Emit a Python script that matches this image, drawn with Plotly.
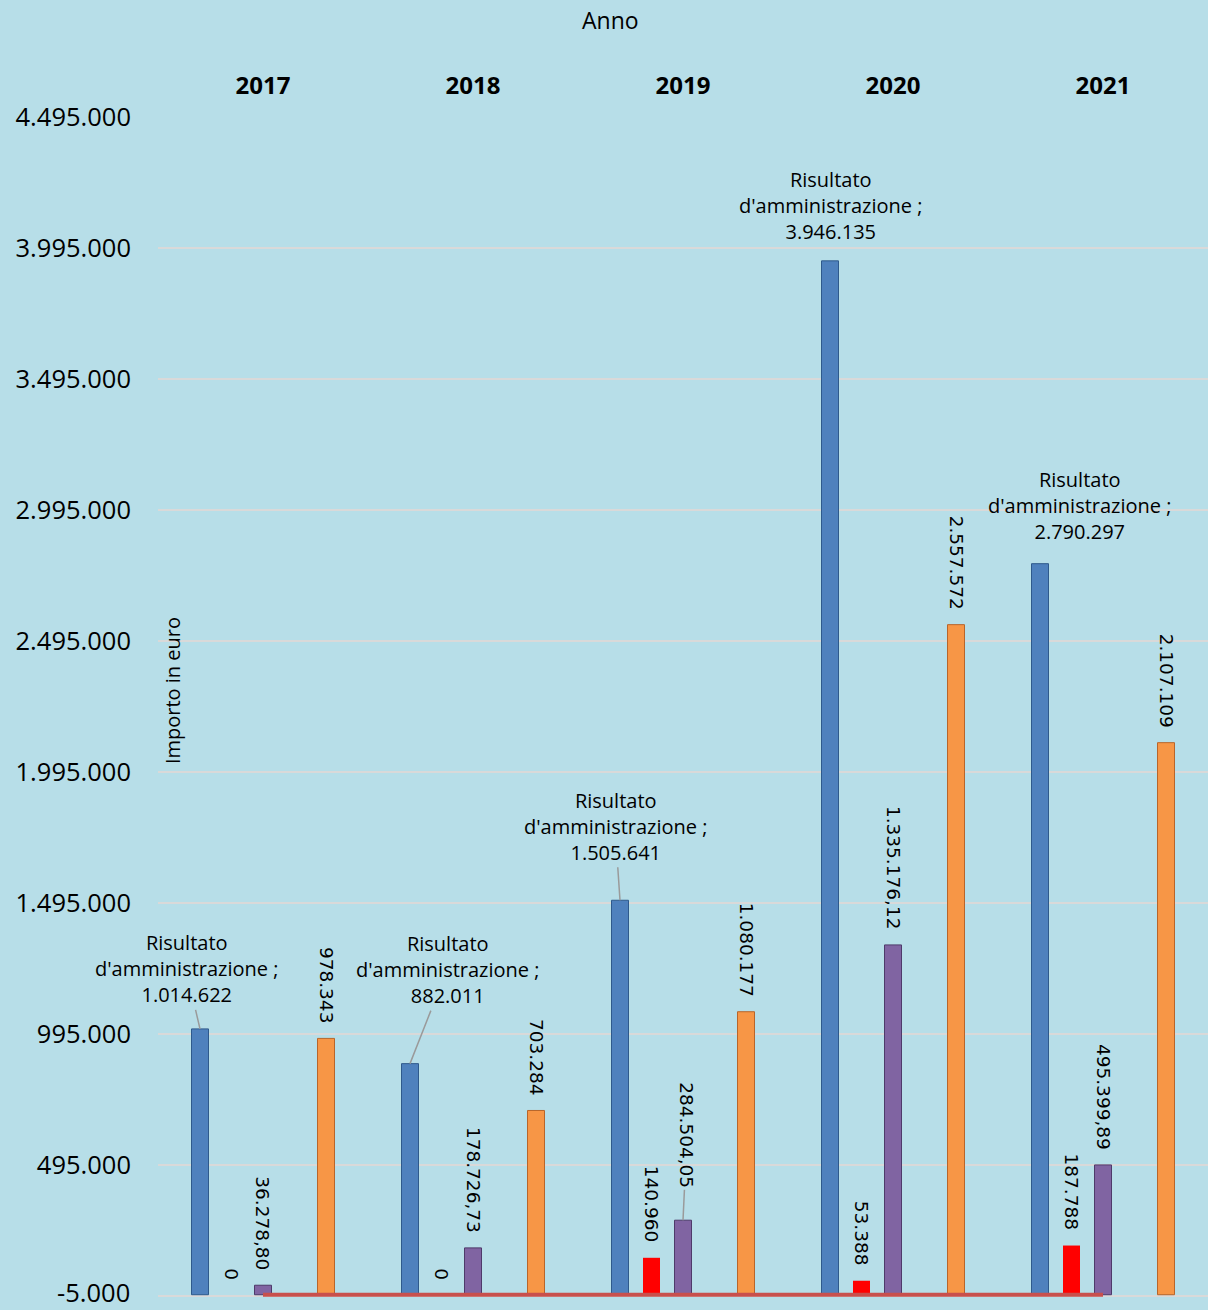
import plotly.graph_objects as go

years = ["2017", "2018", "2019", "2020", "2021"]
risultato = [1014622, 882011, 1505641, 3946135, 2790297]
rossi = [0, 0, 140960, 53388, 187788]
viola = [36278.80, 178726.73, 284504.05, 1335176.12, 495399.89]
vuoto = [None, None, None, None, None]
arancio = [978343, 703284, 1080177, 2557572, 2107109]
linea = [0, 0, 0, 0, 0]

risultato_txt = ["1.014.622", "882.011", "1.505.641", "3.946.135", "2.790.297"]
rossi_txt = ["0", "0", "140.960", "53.388", "187.788"]
viola_txt = ["36.278,80", "178.726,73", "284.504,05", "1.335.176,12", "495.399,89"]
arancio_txt = ["978.343", "703.284", "1.080.177", "2.557.572", "2.107.109"]

y_tickvals = [-5000, 495000, 995000, 1495000, 1995000, 2495000, 2995000, 3495000, 3995000, 4495000]
y_ticktext = ["-5.000", "495.000", "995.000", "1.495.000", "1.995.000", "2.495.000",
              "2.995.000", "3.495.000", "3.995.000", "4.495.000"]

BG = "#B7DEE8"
SLOT = 31.5
LBL_FONT = dict(family="Open Sans", size=20, color="black")
ROT_FONT = dict(family="DejaVu Sans", size=18.5, color="black")
TICK_FONT = dict(family="Open Sans", size=25.5, color="black")

fig = go.Figure()
series = [
    ("Risultato d'amministrazione", risultato, "#4F81BD", "#2F5A8C", 1),
    ("Serie 2", rossi, "#FF0000", "#B00000", 0),
    ("Serie 3", viola, "#8064A2", "#4E3A6A", 1),
    ("", vuoto, BG, BG, 0),
    ("Serie 5", arancio, "#F79646", "#B8652A", 1),
]
for name, vals, col, lcol, lw in series:
    fig.add_trace(go.Bar(x=years, y=vals, name=name,
                         marker=dict(color=col, line=dict(color=lcol, width=lw)),
                         showlegend=False))

fig.add_trace(go.Scatter(x=years, y=linea, mode="lines", line=dict(color="#C8504D", width=4),
                         showlegend=False))

ann = []
blue_cfg = [
    dict(arrow=True, ax=-14, ay=-60),
    dict(arrow=True, ax=37, ay=-94),
    dict(arrow=True, ax=-5, ay=-74),
    dict(arrow=False, xs=0, ys=55),
    dict(arrow=False, xs=39, ys=58),
]
for i, yr in enumerate(years):
    txt = "Risultato<br>d'amministrazione ;<br>" + risultato_txt[i]
    c = blue_cfg[i]
    if c["arrow"]:
        ann.append(dict(x=i, y=risultato[i], xref="x", yref="y", xshift=-2 * SLOT, text=txt,
                        showarrow=True, ax=c["ax"], ay=c["ay"], arrowhead=0, arrowwidth=1.5,
                        arrowcolor="#9A9A9A", standoff=0, font=LBL_FONT))
    else:
        ann.append(dict(x=i, y=risultato[i], xref="x", yref="y", xshift=-2 * SLOT + c["xs"],
                        yshift=c["ys"], text=txt, showarrow=False, font=LBL_FONT,
                        xanchor="center", yanchor="middle"))

def rot(i, val, txt, slot_off, gap=13, dx=0):
    return dict(x=i, y=val, xref="x", yref="y", xshift=slot_off * SLOT + dx, yshift=gap,
                text=txt, textangle=90, showarrow=False, font=ROT_FONT,
                xanchor="center", yanchor="bottom")

for i, yr in enumerate(years):
    ann.append(rot(i, rossi[i], rossi_txt[i], -1))
    if i == 2:
        ann.append(dict(x=i, y=viola[i], xref="x", yref="y", text=viola_txt[i], textangle=90,
                        showarrow=True, ax=4, ay=-85, arrowhead=0, arrowwidth=1.5,
                        arrowcolor="#9A9A9A", standoff=0, font=ROT_FONT))
    else:
        ann.append(rot(i, viola[i], viola_txt[i], 0))
    ann.append(rot(i, arancio[i], arancio_txt[i], 2))

ann.append(dict(text="Anno", xref="paper", yref="paper", x=0.431, y=1, yshift=97,
                showarrow=False, xanchor="center", yanchor="middle",
                font=dict(family="Open Sans", size=23, color="black")))
ann.append(dict(text="Importo in euro", xref="paper", yref="y", x=0, xshift=14, y=2304000,
                textangle=-90, showarrow=False, xanchor="center", yanchor="middle",
                font=dict(family="Open Sans", size=20, color="black")))
# bottom tick label drawn as annotation (plotly drops it at the range edge)
ann.append(dict(text=y_ticktext[0], xref="paper", yref="y", x=0, xshift=-27, y=y_tickvals[0],
                yshift=4, showarrow=False, xanchor="right", yanchor="middle",
                borderpad=0, font=TICK_FONT))

axis_ticktext = [""] + y_ticktext[1:]

fig.update_layout(
    width=1208, height=1310,
    margin=dict(l=158, r=0, t=117, b=12),
    paper_bgcolor=BG, plot_bgcolor=BG,
    barmode="group", bargap=0.25, bargroupgap=0.46,
    showlegend=False,
    annotations=ann,
    xaxis=dict(type="category", side="top", showgrid=False, showline=False, ticks="",
               range=[-0.5, 4.5], categoryorder="array", categoryarray=years,
               tickfont=dict(family="Open Sans", size=24, color="black", weight="bold"),
               ticklabelstandoff=17),
    yaxis=dict(range=[-12500, 4495200], tickvals=y_tickvals, ticktext=axis_ticktext,
               showgrid=True, gridcolor="#D9D9D9", gridwidth=2, zeroline=False, ticks="",
               tickfont=TICK_FONT, ticklabelstandoff=26),
)

fig.write_html("out.html")
